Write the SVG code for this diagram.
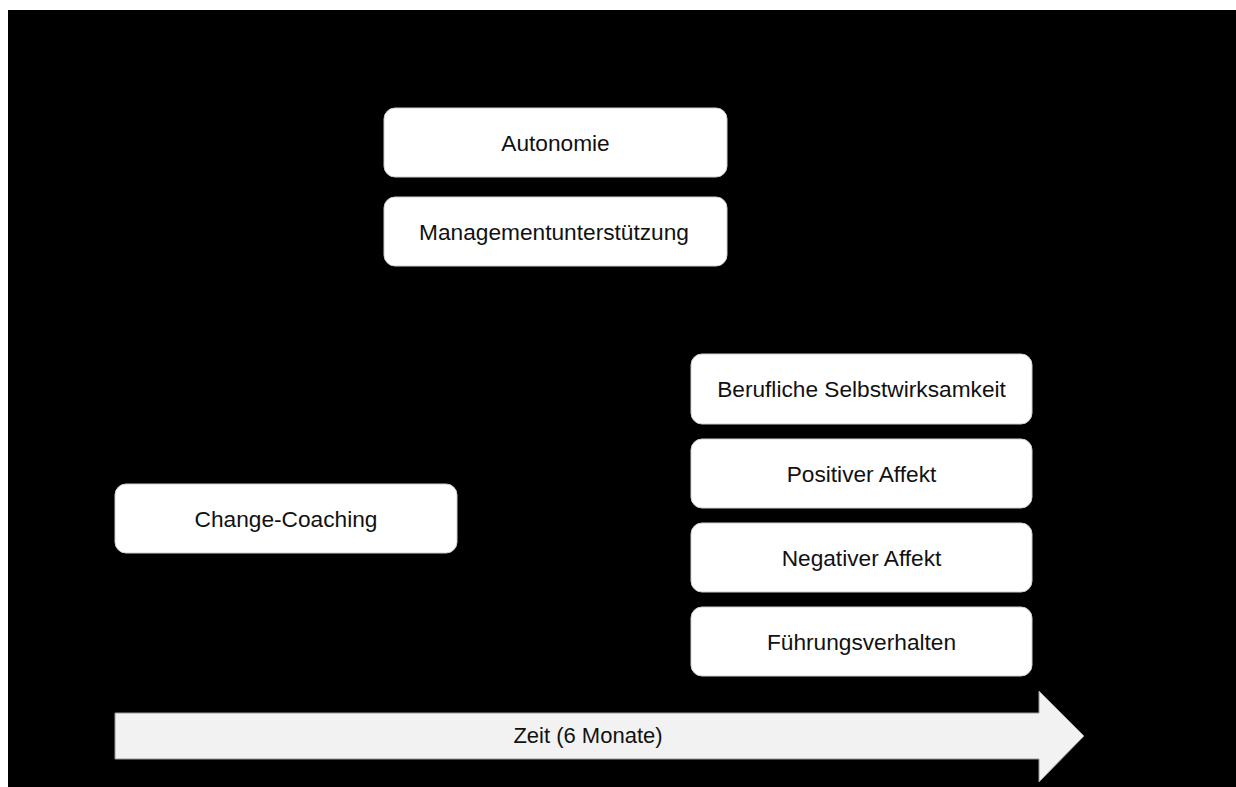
<svg xmlns="http://www.w3.org/2000/svg" width="1236" height="787" viewBox="0 0 1236 787">
<style>
.box{fill:#ffffff;stroke:#cfcfcf;stroke-width:1}
.lbl{font-family:"Liberation Sans",Arial,sans-serif;font-size:22.7px;fill:#111111;text-anchor:middle}
.tl{font-family:"Liberation Sans",Arial,sans-serif;font-size:22px;fill:#111111;text-anchor:middle}
</style>
<rect x="0" y="0" width="1236" height="787" fill="#ffffff"/>
<rect x="8" y="10" width="1228" height="777" fill="#000000"/>
<g id="connectors">
<path d="M115,713 L1039,713 L1039,691 L1084,736 L1039,782 L1039,759 L115,759 Z" fill="#f2f2f2" stroke="#9a9a9a" stroke-width="1"/>
<text class="tl" x="588" y="743">Zeit (6 Monate)</text>
</g>
<g id="autonomie">
<rect class="box" x="384" y="108" width="343" height="69" rx="11"/>
<text class="lbl" x="555.5" y="151">Autonomie</text>
</g>
<g id="management">
<rect class="box" x="384" y="197" width="343" height="69" rx="11"/>
<text class="lbl" x="554" y="240">Managementunterstützung</text>
</g>
<g id="change-coaching">
<rect class="box" x="115" y="484" width="342" height="69" rx="11"/>
<text class="lbl" x="286" y="527">Change-Coaching</text>
</g>
<g id="selbstwirksamkeit">
<rect class="box" x="691" y="354" width="341" height="70" rx="11"/>
<text class="lbl" x="861.5" y="397">Berufliche Selbstwirksamkeit</text>
</g>
<g id="positiver-affekt">
<rect class="box" x="691" y="439" width="341" height="69" rx="11"/>
<text class="lbl" x="861.5" y="481.5">Positiver Affekt</text>
</g>
<g id="negativer-affekt">
<rect class="box" x="691" y="523" width="341" height="69" rx="11"/>
<text class="lbl" x="861.5" y="565.5">Negativer Affekt</text>
</g>
<g id="fuehrungsverhalten">
<rect class="box" x="691" y="607" width="341" height="69" rx="11"/>
<text class="lbl" x="861.5" y="649.5">Führungsverhalten</text>
</g>
</svg>
